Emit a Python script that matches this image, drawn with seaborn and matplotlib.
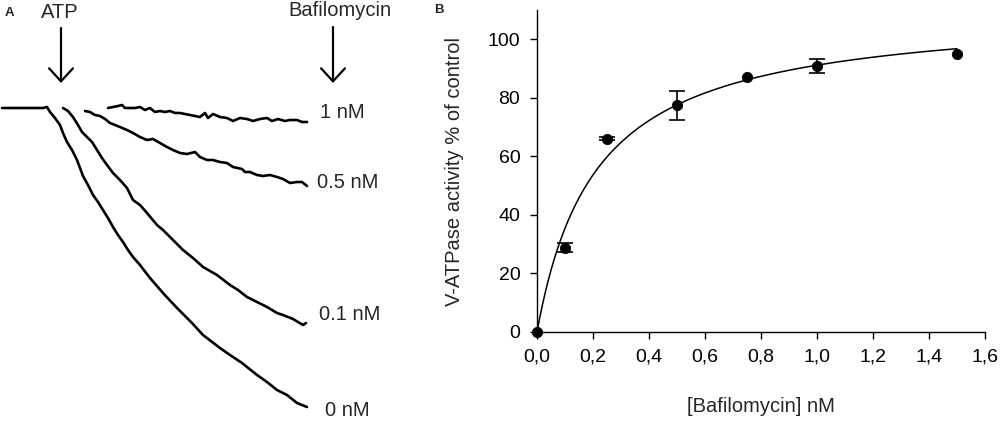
import numpy as np
import pandas as pd
import matplotlib
matplotlib.use('Agg')
import matplotlib.pyplot as plt
import seaborn as sns

# ---- panel A: proton pumping traces (arbitrary units)
# time axis and quench (downward deflection) for each bafilomycin concentration
t_0nM = [2, 43, 47, 50, 55, 60, 63, 67, 72, 77, 80, 83, 88, 93, 98, 103, 108, 113, 118,
         123, 128, 133, 140, 150, 163, 177, 192, 203, 220, 230, 242, 257, 267, 277, 287, 297, 307]
q_0nM = [0, 0, -1, 4, 10, 17, 25, 34, 42, 52, 60, 68, 77, 87, 94, 102, 110, 119, 127,
         134, 142, 149, 157, 170, 185, 200, 215, 227, 240, 247, 255, 267, 274, 282, 287, 295, 299]

t_01nM = [63, 68, 73, 78, 82, 87, 92, 97, 102, 107, 113, 120, 127, 133, 140, 147, 157, 163,
          173, 183, 193, 203, 217, 230, 238, 247, 253, 267, 277, 283, 293, 303, 306]
q_01nM = [0, 3, 9, 17, 24, 29, 34, 42, 50, 57, 65, 72, 80, 92, 97, 105, 117, 122,
          132, 142, 150, 159, 167, 177, 182, 189, 192, 199, 205, 207, 211, 217, 215]

t_05nM = [85, 90, 95, 100, 105, 110, 115, 120, 127, 133, 140, 147, 153, 160, 167, 173, 180,
          187, 195, 200, 207, 213, 220, 227, 233, 242, 245, 250, 257, 263, 270, 277, 283, 290,
          297, 302, 307]
q_05nM = [3, 4, 7, 8, 11, 15, 17, 19, 22, 25, 29, 32, 31, 35, 39, 42, 45,
          46, 44, 49, 52, 52, 54, 55, 59, 61, 64, 64, 67, 68, 67, 69, 71, 75,
          74, 74, 78]

t_1nM = [108, 113, 118, 122, 125, 130, 135, 140, 145, 150, 155, 160, 165, 170, 175, 180, 185,
         190, 195, 200, 205, 208, 213, 220, 227, 233, 240, 247, 253, 260, 267, 272, 278, 285,
         290, 297, 302, 307]
q_1nM = [0, -1, -2, -3, 0, 0, 0, -1, 2, 0, 4, 3, 4, 3, 5, 5, 6,
         7, 8, 9, 5, 10, 6, 9, 10, 13, 10, 11, 13, 11, 10, 13, 11, 13,
         12, 12, 14, 14]

trace_labels = ['0 nM', '0.1 nM', '0.5 nM', '1 nM']

# ---- panel B: dose response
conc = [0.0, 0.1, 0.25, 0.5, 0.75, 1.0, 1.5]
activity = [0.0, 28.8, 66.1, 77.4, 87.2, 90.9, 94.8]
activity_err = [0.0, 1.5, 0.4, 5.0, 0.0, 2.3, 0.0]
x_ticks = [0.0, 0.2, 0.4, 0.6, 0.8, 1.0, 1.2, 1.4, 1.6]
x_tick_labels = ['0,0', '0,2', '0,4', '0,6', '0,8', '1,0', '1,2', '1,4', '1,6']
y_ticks = [0, 20, 40, 60, 80, 100]

sns.set_style('ticks')
plt.rcParams['font.family'] = ['Liberation Sans', 'DejaVu Sans']

fig = plt.figure(figsize=(10, 4.3), dpi=100)

# ---------------- panel A
ax_a = fig.add_axes([0, 0, 0.4, 1])
traces = pd.concat([
    pd.DataFrame({'time': t_0nM, 'quench': q_0nM, 'conc': '0 nM'}),
    pd.DataFrame({'time': t_01nM, 'quench': q_01nM, 'conc': '0.1 nM'}),
    pd.DataFrame({'time': t_05nM, 'quench': q_05nM, 'conc': '0.5 nM'}),
    pd.DataFrame({'time': t_1nM, 'quench': q_1nM, 'conc': '1 nM'}),
])
sns.lineplot(data=traces, x='time', y='quench', hue='conc', units='conc',
             estimator=None, palette=['black'] * 4, lw=1.9, legend=False, ax=ax_a)
ax_a.set_xlim(0, 400)
ax_a.set_ylim(322, -108)
ax_a.axis('off')

# end-of-trace labels
ends = {'0 nM': (347, 302), '0.1 nM': (350, 207), '0.5 nM': (348, 75), '1 nM': (342, 5)}
for lab in trace_labels:
    ax_a.text(*ends[lab], lab, fontsize=14.5, ha='center', va='center')

arrow = dict(arrowstyle='->,head_length=0.47,head_width=0.43', lw=1.6,
             color='black', shrinkA=0, shrinkB=0, mutation_scale=20)
ax_a.annotate('', xy=(61, -25), xytext=(61, -80), arrowprops=arrow)
ax_a.annotate('', xy=(333, -25), xytext=(333, -81), arrowprops=arrow)
ax_a.text(60, -96, 'ATP', fontsize=14.5, ha='center', va='center')
ax_a.text(340, -98, 'Bafilomycin', fontsize=14.5, ha='center', va='center')
ax_a.text(9, -95, 'A', fontsize=9.5, fontweight='bold', ha='center', va='center')

# ---------------- panel B
ax_b = fig.add_axes([0.537, 98 / 430, 0.448, 322 / 430])

# hyperbolic fit y = Vmax*x/(K+x), least squares over K grid
xs = np.array(conc)
ys = np.array(activity)
best = None
for k in np.linspace(0.05, 0.6, 1101):
    f = xs / (k + xs)
    vmax = (ys * f).sum() / (f * f).sum()
    sse = ((ys - vmax * f) ** 2).sum()
    if best is None or sse < best[0]:
        best = (sse, k, vmax)
_, k_fit, vmax_fit = best
x_fit = np.linspace(0, 1.5, 300)
fit_df = pd.DataFrame({'conc': x_fit, 'activity': vmax_fit * x_fit / (k_fit + x_fit)})
sns.lineplot(data=fit_df, x='conc', y='activity', color='black', lw=1.1, ax=ax_b)

err = np.array(activity_err)
has_err = err > 0
ax_b.errorbar(xs[has_err], ys[has_err], yerr=err[has_err], fmt='none', ecolor='black',
              elinewidth=1.2, capsize=6, capthick=1.2)
sns.scatterplot(x=conc, y=activity, color='black', s=55, edgecolor='black',
                zorder=5, clip_on=False, ax=ax_b)

ax_b.set_xlim(0, 1.6)
ax_b.set_ylim(0, 110)
ax_b.set_xticks(x_ticks)
ax_b.set_xticklabels(x_tick_labels)
ax_b.set_yticks(y_ticks)
sns.despine(ax=ax_b)
for sp in ax_b.spines.values():
    sp.set_linewidth(1.0)
    sp.set_color('black')
ax_b.tick_params(direction='out', length=5, width=1.0, pad=7, labelsize=14, colors='black')
ax_b.set_xlabel('[Bafilomycin] nM', fontsize=14.5)
ax_b.set_ylabel('V-ATPase activity % of control', fontsize=14.5)
ax_b.xaxis.set_label_coords(0.5, -65 / 322)
ax_b.yaxis.set_label_coords(-73.5 / 448, 0.5)
fig.text(0.439, 1 - 10 / 430, 'B', fontsize=9.5, fontweight='bold', ha='center', va='center')

fig.savefig('out.png', dpi=100)
